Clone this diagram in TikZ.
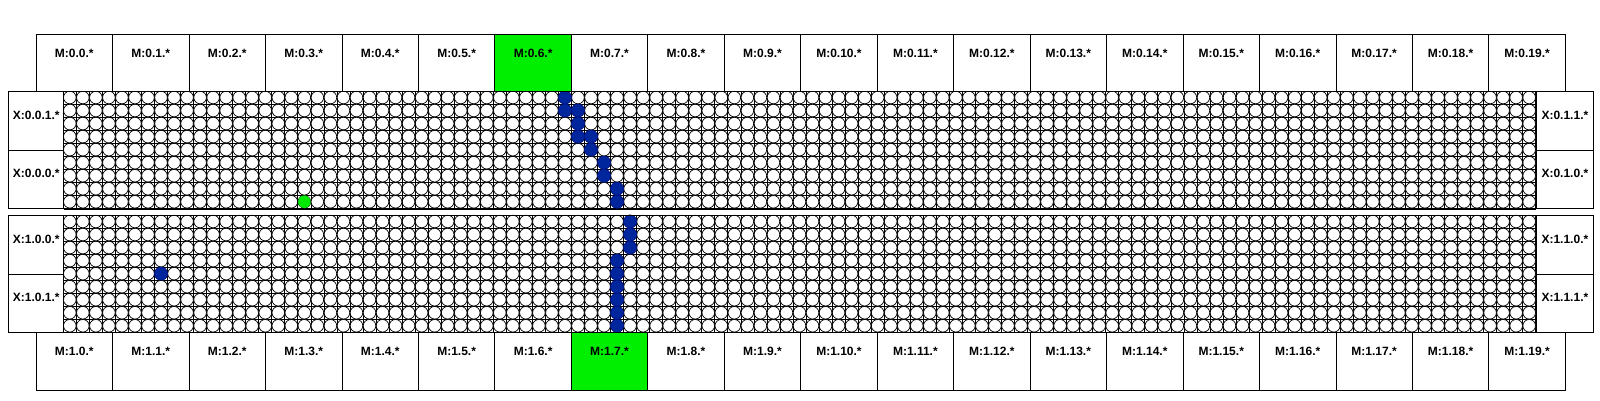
\documentclass[tikz,border=0pt]{standalone}
\usepackage{fontspec}
\setmainfont{Liberation Sans}
\definecolor{mgreen}{RGB}{0,238,0}
\definecolor{dotgreen}{RGB}{0,232,0}
\definecolor{dotblue}{RGB}{0,38,158}
\definecolor{dotblueedge}{RGB}{0,18,135}
\begin{document}
\begin{tikzpicture}[x=1pt,y=-1pt,
  box/.style={draw, line width=0.8pt, rectangle, inner sep=0pt, anchor=north west},
  mbox/.style={box, minimum width=76.46pt},
  xbox/.style={box, minimum height=58.64pt},
  lbl/.style={font=\bfseries\fontsize{12}{14}\selectfont, inner sep=0pt},
  gline/.style={line width=0.7pt},
  cell/.style={draw, line width=0.7pt, fill=white},
  bdot/.style={fill=dotblue, draw=dotblueedge, line width=0.6pt},
  gdot/.style={fill=dotgreen}]
\useasboundingbox (0,0) rectangle (1600,400);

% grids of cells
\foreach \yo in {91,215} {
  \foreach \c in {0,...,113} \draw[gline] ({63.3+\c*13.03},\yo) -- ++(0,117.27);
  \foreach \r in {0,...,9} \draw[gline] (63.3,{\yo+\r*13.03}) -- ++(1472.39,0);
  \foreach \r in {0,...,8} \foreach \c in {0,...,112}
    \draw[cell] ({63.3+(\c+0.5)*13.03},{\yo+(\r+0.5)*13.03}) circle[radius=6.3pt];
}

% highlighted dots, top grid
\foreach \c/\r in {38/0,38/1,39/1,39/2,39/3,40/3,40/4,41/5,41/6,42/7,42/8}
  \draw[bdot] ({63.3+(\c+0.5)*13.03},{91+(\r+0.5)*13.03}) circle[radius=6.6pt];
\fill[gdot] ({63.3+18.5*13.03},{91+8.5*13.03}) circle[radius=6.3pt];
% highlighted dots, bottom grid
\foreach \c/\r in {43/0,43/1,43/2,42/3,42/4,42/5,42/6,42/7,42/8,7/4}
  \draw[bdot] ({63.3+(\c+0.5)*13.03},{215+(\r+0.5)*13.03}) circle[radius=6.6pt];

% X boxes
\node[xbox, minimum width=55pt] (xl01) at (8.3,91) {};
\node[xbox, minimum width=55pt] (xl00) at (8.3,149.64) {};
\node[xbox, minimum width=57.6pt] (xr11) at (1535.69,91) {};
\node[xbox, minimum width=57.6pt] (xr10) at (1535.69,149.64) {};
\node[xbox, minimum width=55pt] (xl100) at (8.3,215) {};
\node[xbox, minimum width=55pt] (xl101) at (8.3,273.64) {};
\node[xbox, minimum width=57.6pt] (xr110) at (1535.69,215) {};
\node[xbox, minimum width=57.6pt] (xr111) at (1535.69,273.64) {};
\draw[line width=0.8pt] (xl01.north east) -- (xr11.north west);
\draw[line width=0.8pt] (xl00.south east) -- (xr10.south west);
\draw[line width=0.8pt] (xl100.north east) -- (xr110.north west);
\draw[line width=0.8pt] (xl101.south east) -- (xr111.south west);

\node[lbl] (txl01) at ([yshift=-24pt]xl01.north) {X:0.0.1.*};
\node[lbl] (txl00) at ([yshift=-24pt]xl00.north) {X:0.0.0.*};
\node[lbl] (txr11) at ([yshift=-24pt]xr11.north) {X:0.1.1.*};
\node[lbl] (txr10) at ([yshift=-24pt]xr10.north) {X:0.1.0.*};
\node[lbl] (txl100) at ([yshift=-24pt]xl100.north) {X:1.0.0.*};
\node[lbl] (txl101) at ([yshift=-24pt]xl101.north) {X:1.0.1.*};
\node[lbl] (txr110) at ([yshift=-24pt]xr110.north) {X:1.1.0.*};
\node[lbl] (txr111) at ([yshift=-24pt]xr111.north) {X:1.1.1.*};

% M boxes
\foreach \i in {0,...,19} {
  \ifnum\i=6 \def\mf{mgreen}\else\def\mf{white}\fi
  \node[mbox, minimum height=56.7pt, fill=\mf] (mt\i) at ({35.7+\i*76.46},34.3) {};
  \node[lbl] (tmt\i) at ([yshift=-19pt]mt\i.north) {M:0.\i.*};
}
\foreach \i in {0,...,19} {
  \ifnum\i=7 \def\mf{mgreen}\else\def\mf{white}\fi
  \node[mbox, minimum height=57.7pt, fill=\mf] (mb\i) at ({35.7+\i*76.46},332.27) {};
  \node[lbl] (tmb\i) at ([yshift=-19.5pt]mb\i.north) {M:1.\i.*};
}
\end{tikzpicture}
\end{document}
